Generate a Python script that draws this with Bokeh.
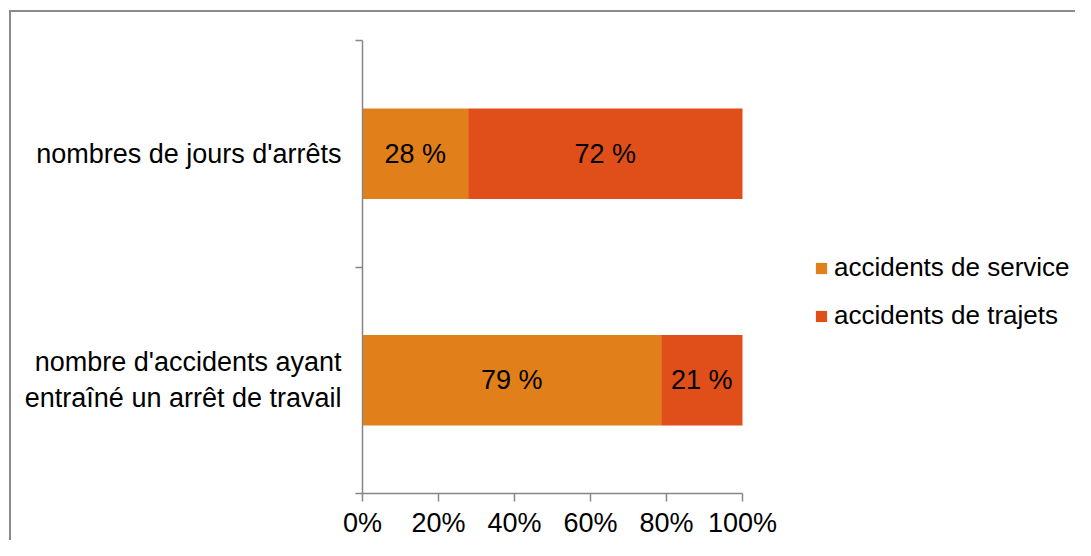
from bokeh.plotting import figure
from bokeh.models import Range1d, FixedTicker, Legend, LegendItem, ColumnDataSource
from bokeh.core.properties import value
from bokeh.embed import file_html
from bokeh.resources import INLINE

# ---- data ----
categories = ["nombre d'accidents ayant\nentraîné un arrêt de travail", "nombres de jours d'arrêts"]
cat_pos = [0.5, 1.5]
service = [78.6, 27.8]   # accidents de service (%)
trajets = [21.4, 72.2]   # accidents de trajets (%)
series_names = ["accidents de service", "accidents de trajets"]
colors = ["#E17F1A", "#E04F19"]
x_ticks = [0, 20, 40, 60, 80, 100]
x_tick_labels = ["0%", "20%", "40%", "60%", "80%", "100%"]

FONT = "Liberation Sans"
FS = "27px"
AXIS_COL = "#868686"

# ---- layout (pixels) ----
W, H = 1075, 540
LEFT, TOP, BOTTOM = 362, 40, 44
AXIS_PX = 380                       # pixel length of 0..100 %
frame_w = W - LEFT
x_end = 100 * frame_w / AXIS_PX     # extend frame to the right so the legend is inside

border_css = ("linear-gradient(#8a8a8a,#8a8a8a) 9px 10px / 2px calc(100% - 10px) no-repeat, "
              "linear-gradient(#8a8a8a,#8a8a8a) 9px 10px / calc(100% - 9px) 2px no-repeat, white")

p = figure(width=W, height=H,
           min_border_left=LEFT, min_border_top=TOP, min_border_right=0, min_border_bottom=BOTTOM,
           x_range=Range1d(0, x_end), y_range=Range1d(0, 2),
           output_backend="svg", toolbar_location=None,
           styles={"background": border_css})
p.outline_line_color = None
p.xgrid.grid_line_color = None
p.ygrid.grid_line_color = None
p.background_fill_color = None
p.border_fill_color = None

# stacked bars
left1 = [0] * len(service)
right1 = service
left2 = service
right2 = [s + t for s, t in zip(service, trajets)]
src = ColumnDataSource(dict(y=cat_pos, l1=left1, r1=right1, l2=left2, r2=right2,
                            m1=[(a + b) / 2 for a, b in zip(left1, right1)],
                            m2=[(a + b) / 2 for a, b in zip(left2, right2)],
                            t1=[f"{round(v)} %" for v in service],
                            t2=[f"{round(v)} %" for v in trajets]))
r_s = p.hbar(y="y", left="l1", right="r1", height=0.4, fill_color=colors[0], line_color=None, source=src)
r_t = p.hbar(y="y", left="l2", right="r2", height=0.4, fill_color=colors[1], line_color=None, source=src)

p.text(x="m1", y="y", text="t1", source=src, text_align="center", text_baseline="middle",
       text_font=value(FONT), text_font_size=FS, text_color="black")
p.text(x="m2", y="y", text="t2", source=src, text_align="center", text_baseline="middle",
       text_font=value(FONT), text_font_size=FS, text_color="black")

# x axis
xa = p.xaxis[0]
xa.bounds = (0, 100)
xa.ticker = FixedTicker(ticks=x_ticks)
xa.major_label_overrides = {t: l for t, l in zip(x_ticks, x_tick_labels)}
xa.minor_tick_line_color = None
xa.major_tick_in = 0
xa.major_tick_out = 8
xa.major_label_standoff = 6
xa.axis_line_color = AXIS_COL
xa.major_tick_line_color = AXIS_COL
xa.axis_line_width = 1.5
xa.major_tick_line_width = 1.5
xa.major_label_text_font = FONT
xa.major_label_text_font_size = FS
xa.major_label_text_color = "black"

# y axis
ya = p.yaxis[0]
ya.bounds = (0, 2)
ya.ticker = FixedTicker(ticks=cat_pos, minor_ticks=[0, 1, 2])
ya.major_label_overrides = {c: l for c, l in zip(cat_pos, categories)}
ya.major_tick_line_color = None
ya.major_tick_in = 0
ya.major_tick_out = 0
ya.minor_tick_in = 0
ya.minor_tick_out = 7
ya.minor_tick_line_color = AXIS_COL
ya.minor_tick_line_width = 1.5
ya.axis_line_color = AXIS_COL
ya.axis_line_width = 1.5
ya.major_label_standoff = 14
ya.major_label_text_font = FONT
ya.major_label_text_font_size = FS
ya.major_label_text_color = "black"

legend = Legend(items=[LegendItem(label=series_names[0], renderers=[r_s]),
                       LegendItem(label=series_names[1], renderers=[r_t])],
                location=(452, 162), orientation="vertical",
                glyph_width=14, glyph_height=14, label_standoff=6, spacing=17,
                padding=0, margin=0, border_line_color=None, background_fill_alpha=0,
                label_text_font=FONT, label_text_font_size="26px", label_text_color="black")
p.add_layout(legend, "center")

open("out.html", "w").write(file_html(p, INLINE))
